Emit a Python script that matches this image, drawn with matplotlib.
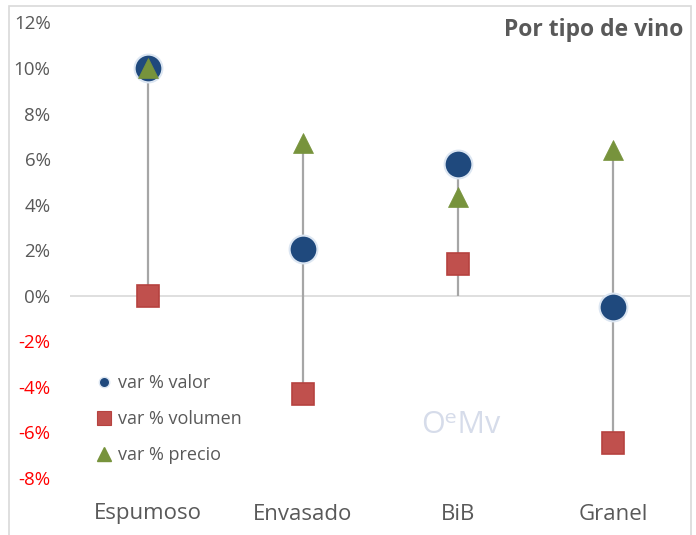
import matplotlib
matplotlib.use("Agg")
import matplotlib.pyplot as plt
from matplotlib.lines import Line2D
from matplotlib.patches import Rectangle
import matplotlib.transforms as mtransforms
import numpy as np

plt.rcParams['font.family'] = ['Open Sans', 'DejaVu Sans']

categories = ["Espumoso", "Envasado", "BiB", "Granel"]
var_valor = [10.0, 2.05, 5.8, -0.5]
var_volumen = [0.0, -4.3, 1.4, -6.45]
var_precio = [10.0, 6.7, 4.35, 6.4]
yticks = [-8, -6, -4, -2, 0, 2, 4, 6, 8, 10, 12]
title = "Por tipo de vino"

W, H = 696, 535
fig = plt.figure(figsize=(W / 100, H / 100), dpi=100)
ax = fig.add_axes([70 / W, (H - 478) / H, (690.5 - 70) / W, (478 - 22.4) / H])

x = np.arange(len(categories))
vals = np.array([var_valor, var_volumen, var_precio])
lo = np.minimum(vals.min(axis=0), 0)
hi = np.maximum(vals.max(axis=0), 0)

ax.axhline(0, color="#D9D9D9", lw=1.2, zorder=1)
ax.vlines(x, lo, hi, color="#A6A6A6", lw=1.6, zorder=2)

ax.plot(x, var_valor, linestyle="none", marker="o", ms=20, mfc="#1F497D",
        mec="#DCE6F2", mew=1.5, zorder=4, clip_on=False)
ax.plot(x, var_volumen, linestyle="none", marker="s", ms=16, mfc="#C0504D",
        mec="#B6423F", mew=1.2, zorder=3, clip_on=False)
ax.plot(x, var_precio, linestyle="none", marker="^", ms=15, mfc="#77933C",
        mec="#77933C", mew=0.5, zorder=5, clip_on=False)

ax.set_xlim(-0.5, len(categories) - 0.5)
ax.set_ylim(-8, 12)
ax.set_yticks(yticks)
ax.set_yticklabels([f"{t}%" for t in yticks], fontsize=13.5, color="#595959")
for lbl, t in zip(ax.get_yticklabels(), yticks):
    if t < 0:
        lbl.set_color("#FF0000")
ax.set_xticks([])
trans = mtransforms.blended_transform_factory(ax.transData, fig.transFigure)
for i, c in enumerate(categories):
    ax.text(i, (H - 514) / H, c, transform=trans, ha="center", va="center",
            fontsize=16, color="#595959")

ax.tick_params(axis="y", length=0, pad=14)
for s in ax.spines.values():
    s.set_visible(False)

fig.text(683 / W, (H - 30) / H, title, ha="right", va="center", fontsize=16.5,
         fontweight="bold", color="#595959")

handles = [
    Line2D([], [], linestyle="none", marker="o", ms=7.5, mfc="#1F497D", mec="#DCE6F2", mew=1),
    Line2D([], [], linestyle="none", marker="s", ms=9.5, mfc="#C0504D", mec="#B6423F", mew=0.8),
    Line2D([], [], linestyle="none", marker="^", ms=9.5, mfc="#77933C", mec="#77933C"),
]
labels = ["var % valor", "var % volumen", "var % precio"]
fig.legend(handles, labels, loc="upper left", bbox_to_anchor=(88 / W, (H - 365) / H),
           frameon=False, fontsize=13, labelcolor="#595959", handlelength=0.8,
           handletextpad=0.35, labelspacing=1.0, borderpad=0)

# watermark
fig.text(421 / W, (H - 425) / H, "O\u1d49Mv", fontsize=22, color="#D6DCEA",
         ha="left", va="center")

fig.patches.append(Rectangle((9 / W, -0.1), (691 - 9) / W, (H - 6) / H + 0.1,
                             transform=fig.transFigure, fill=False, ec="#D9D9D9", lw=1.2))

fig.savefig("out.png", dpi=100)
